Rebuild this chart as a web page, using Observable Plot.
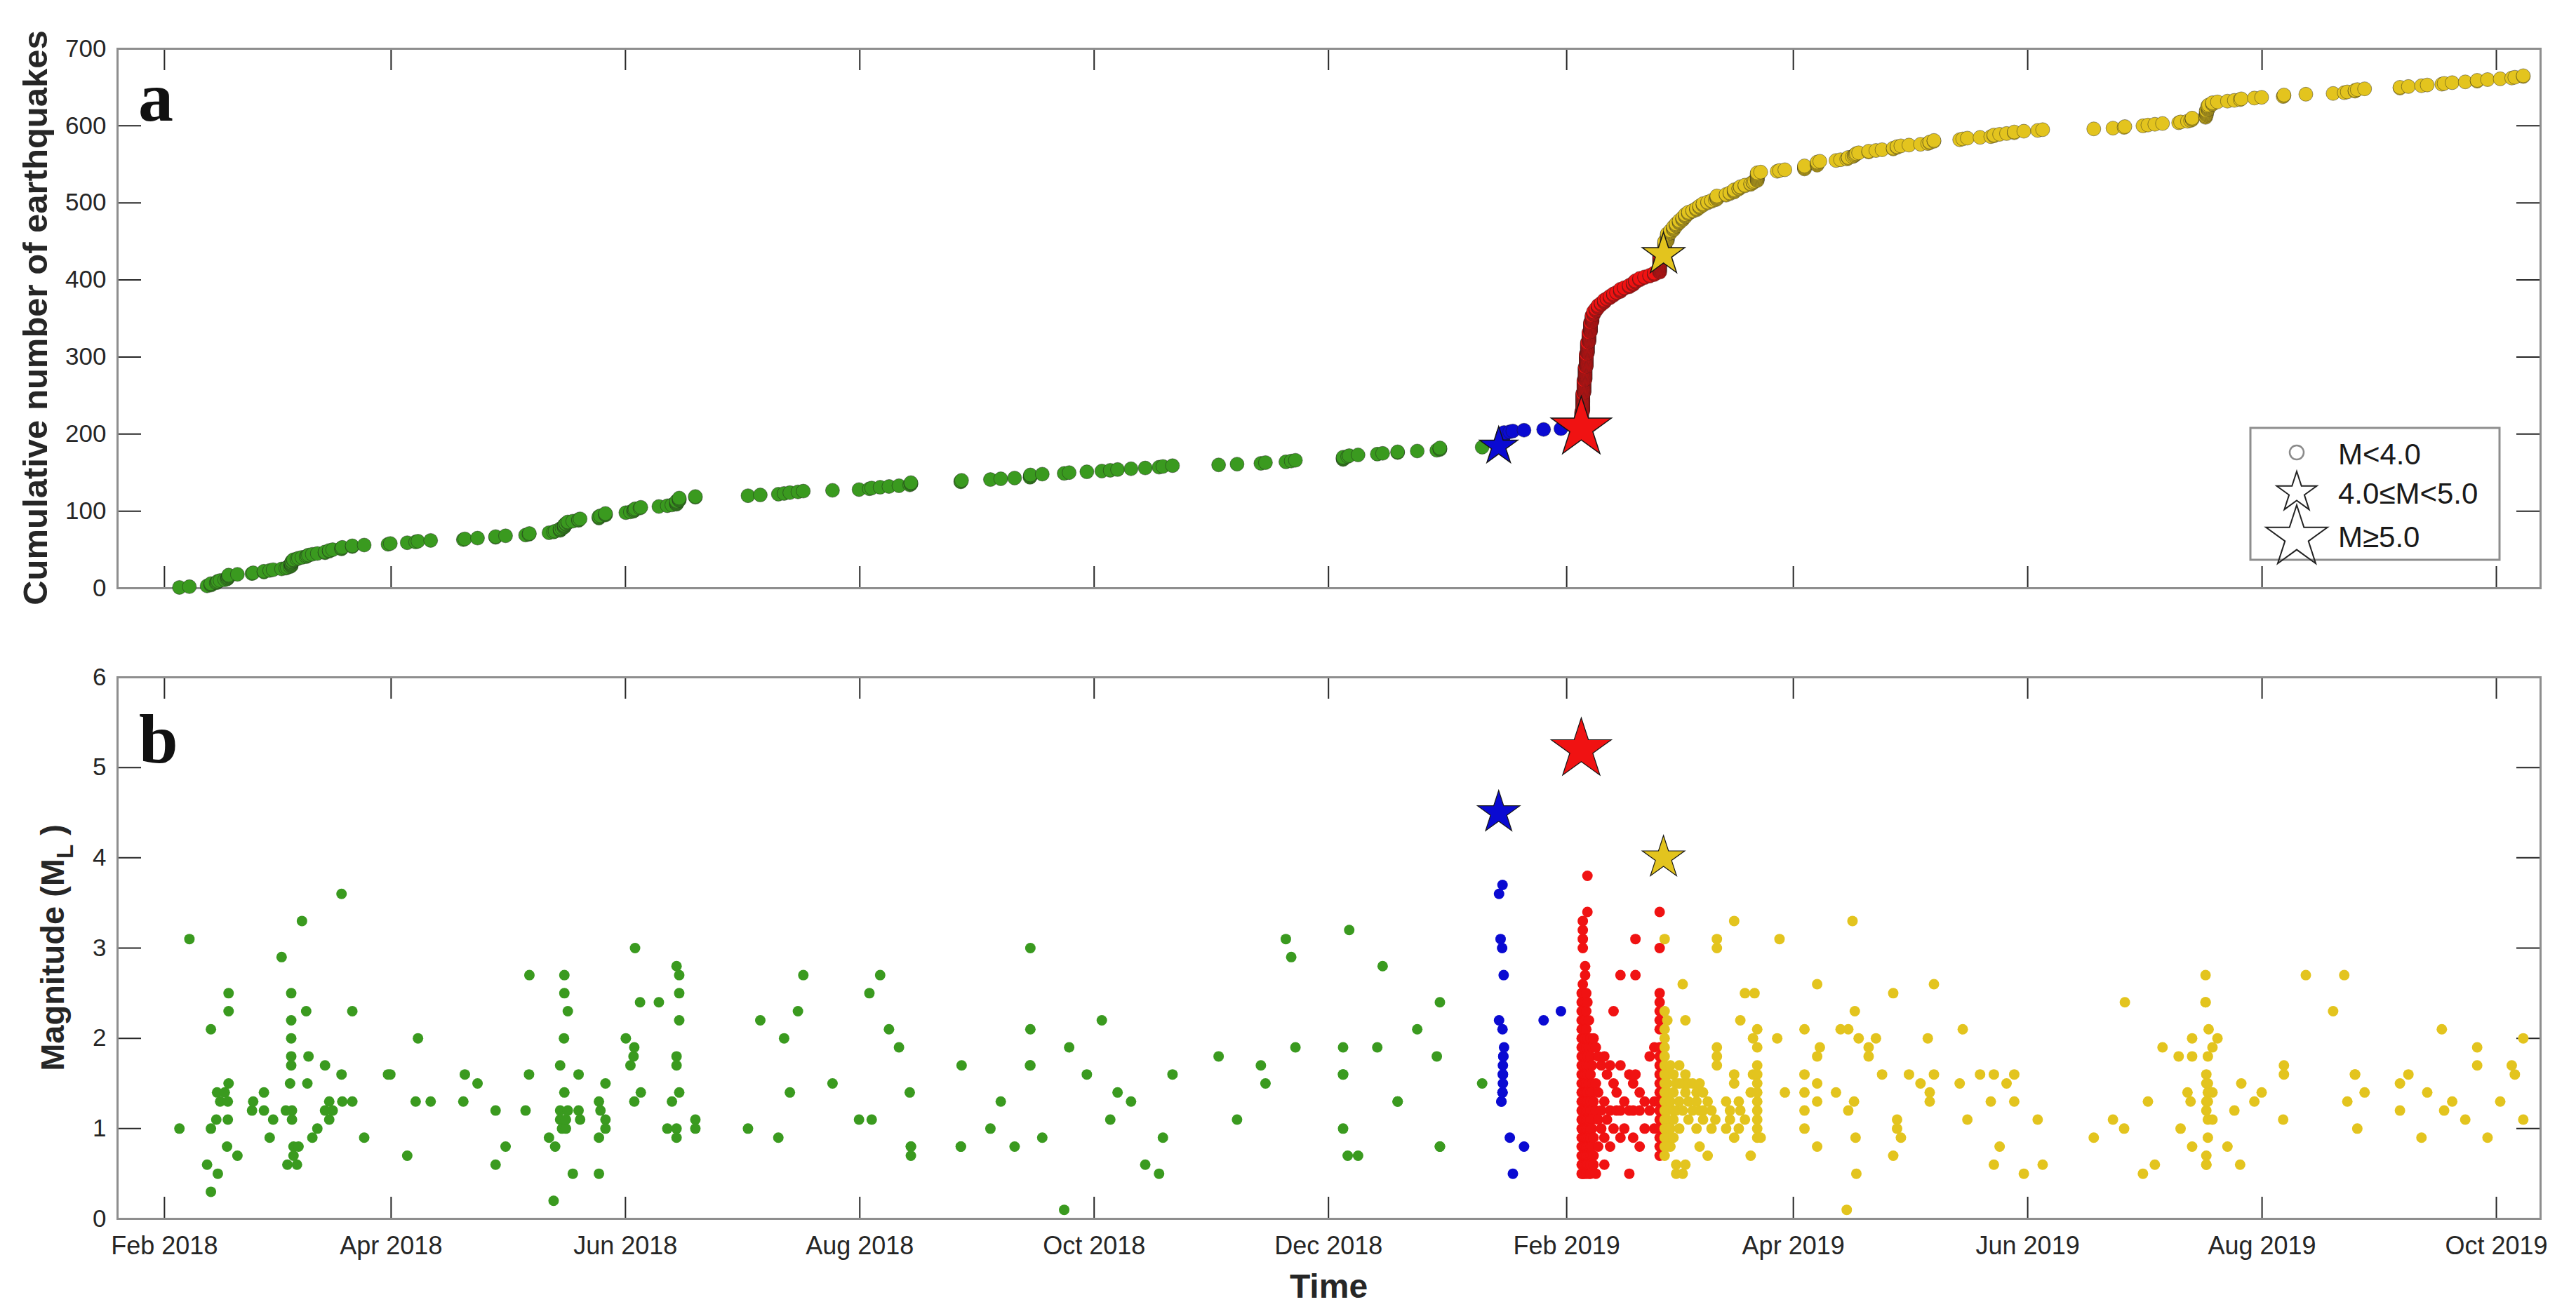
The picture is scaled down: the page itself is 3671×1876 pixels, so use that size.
<!DOCTYPE html>
<html><head><meta charset="utf-8">
<script src="https://cdn.jsdelivr.net/npm/d3@7"></script>
<script src="https://cdn.jsdelivr.net/npm/@observablehq/plot@0.6"></script>
<style>
html,body{margin:0;padding:0;background:#fff;}
#chart{position:relative;width:3671px;height:1876px;overflow:hidden;background:#fff;}
#chart svg{position:absolute;left:0;}
</style></head><body><div id="chart"></div>
<script>
// ---------- tick values / labels ----------
const xTickDates  = ["2018-02-01","2018-04-01","2018-06-01","2018-08-01","2018-10-01","2018-12-01","2019-02-01","2019-04-01","2019-06-01","2019-08-01","2019-10-01"];
const xTickLabels = ["Feb 2018","Apr 2018","Jun 2018","Aug 2018","Oct 2018","Dec 2018","Feb 2019","Apr 2019","Jun 2019","Aug 2019","Oct 2019"];
const cumTicks = [0,100,200,300,400,500,600,700];
const magTicks = [0,1,2,3,4,5,6];
const legendLabels = ["M<4.0","4.0\u2264M<5.0","M\u22655.0"];

// ---------- events: [days since 2018-01-01 UTC, magnitude ML] ----------
const greenEvents = [
[34.9,1.0],[37.5,3.1],[42.1,0.6],[43.1,2.1],[43.1,1.0],[43.1,0.3],[44.5,1.1],[44.7,1.4],[44.9,0.5],[45.5,1.3],
[46.7,1.4],[47.3,0.8],[47.5,1.3],[47.5,1.1],[47.7,2.5],[47.7,2.3],[47.7,1.5],[50.0,0.7],[53.8,1.2],[54.1,1.3],
[56.9,1.4],[56.9,1.2],[58.4,0.9],[59.3,1.1],[61.5,2.9],[62.6,1.2],[63.0,0.6],[63.7,1.5],[64.0,2.5],[64.0,2.2],
[64.0,2.0],[64.0,1.8],[64.0,1.7],[64.2,1.2],[64.2,1.1],[64.6,0.8],[64.6,0.7],[65.5,0.6],[65.9,0.8],[66.8,3.3],
[67.9,2.3],[68.2,1.5],[68.5,1.8],[69.5,0.9],[70.8,1.0],[72.8,1.7],[72.8,1.2],[73.9,1.3],[73.9,1.1],[74.8,1.2],
[77.1,3.6],[77.1,1.6],[77.3,1.3],[79.9,2.3],[79.9,1.3],[83.0,0.9],[89.2,1.6],[89.8,1.6],[94.2,0.7],[96.4,1.3],
[97.0,2.0],[100.3,1.3],[108.8,1.3],[109.2,1.6],[112.5,1.5],[117.2,1.2],[117.2,0.6],[119.8,0.8],[125.0,1.2],[125.9,1.6],
[126.0,2.7],[131.1,0.9],[132.3,0.2],[132.7,0.8],[134.0,1.7],[134.0,1.2],[134.0,1.1],[134.5,1.0],[135.0,2.0],[135.1,2.7],
[135.1,2.5],[135.1,1.4],[135.5,1.0],[135.5,1.1],[136.0,2.3],[136.0,1.2],[137.3,0.5],[138.8,1.6],[138.8,1.2],[139.2,1.1],
[144.1,1.3],[144.1,0.9],[144.1,0.5],[144.5,1.2],[145.8,1.5],[145.8,1.1],[145.8,1.0],[151.1,2.0],[152.3,1.7],[153.1,1.8],
[153.3,1.9],[153.3,1.3],[153.5,3.0],[154.8,2.4],[155.0,1.4],[159.7,2.4],[161.9,1.0],[163.1,1.3],[164.3,2.8],[164.3,1.8],
[164.3,1.7],[164.3,1.0],[164.3,0.9],[165.0,2.7],[165.0,2.5],[165.0,2.2],[165.0,1.4],[169.2,1.1],[169.2,1.0],[182.9,1.0],
[186.1,2.2],[190.8,0.9],[192.3,2.0],[193.8,1.4],[195.9,2.3],[197.3,2.7],[204.9,1.5],[211.8,1.1],[214.5,2.5],[215.1,1.1],
[217.3,2.7],[219.6,2.1],[222.2,1.9],[225.0,1.4],[225.3,0.8],[225.3,0.8],[225.3,0.7],[238.3,0.8],[238.3,0.8],[238.5,1.7],
[246.0,1.0],[248.7,1.3],[252.3,0.8],[256.3,1.7],[256.4,1.7],[256.4,3.0],[256.4,2.1],[259.5,0.9],[265.2,0.1],[266.5,1.9],
[271.1,1.6],[275.0,2.2],[277.2,1.1],[279.1,1.4],[282.6,1.3],[286.3,0.6],[289.9,0.5],[290.9,0.9],[293.4,1.6],[305.4,1.8],
[310.2,1.1],[316.4,1.7],[317.6,1.5],[322.9,3.1],[324.3,2.9],[325.4,1.9],[337.8,1.9],[337.8,1.6],[337.8,1.6],[337.8,1.0],
[339.0,0.7],[339.4,3.2],[341.7,0.7],[346.7,1.9],[348.1,2.8],[352.0,1.3],[352.0,1.3],[357.1,2.1],[362.2,1.8],[363.0,2.4],
[363.0,0.8],[363.0,0.8],[374.0,1.5]
];
const blueEvents = [
[378.4,3.6],[378.4,2.2],[378.8,3.1],[379.0,1.3],[379.0,1.3],[379.2,3.0],[379.3,3.7],[379.3,2.1],[379.3,1.4],[379.3,1.4],
[379.4,1.7],[379.4,1.6],[379.4,1.6],[379.4,1.5],[379.5,1.8],[379.5,1.8],[379.6,2.7],[379.7,1.9],[381.2,0.9],[382.0,0.5],
[384.9,0.8],[390.0,2.2],[394.5,2.3]
];
// dense sequences: [day, [magnitudes stacked at that day]]
const redColumns = [
[399.9,[2.5,2.4,2.3,2.2,2.1,2.0,1.9,1.8,1.7,1.6,1.5,1.4,1.3,1.2,1.1,1.0,0.9,0.8,0.7,0.6,0.5]],
[400.2,[3.3,3.2,3.1,3.0,2.6,2.5,2.4,2.3,2.1,1.9,1.8,1.7,1.6,1.5,1.4,1.3,1.2,1.1,1.0,0.9,0.8,0.7,0.6,0.5]],
[400.5,[2.2,2.0,1.9,1.8,1.7,1.6,1.5,1.4,1.3,1.2,1.1,1.0,0.9,0.8,0.7,0.6,0.5]],
[400.8,[2.8,2.7,2.4,2.2,2.0,1.8,1.6,1.5,1.4,1.3,1.2,1.1,1.0,0.9,0.8,0.7,0.6]],
[401.1,[2.5,2.3,2.1,1.9,1.7,1.5,1.4,1.3,1.2,1.1,1.0,0.9,0.8,0.7,0.6,0.6,0.5]],
[401.4,[3.8,3.4,2.4,2.0,1.8,1.6,1.4,1.3,1.2,1.1,1.0,0.9,0.8,0.7,0.6]],
[401.8,[2.2,1.9,1.7,1.5,1.3,1.2,1.1,1.0,0.9,0.8,0.7,0.6,0.5]],
[402.2,[2.0,1.8,1.6,1.4,1.3,1.2,1.1,1.0,0.9,0.8,0.7,0.6,0.5]],
[402.6,[1.9,1.7,1.5,1.4,1.2,1.1,1.0,0.8,0.7]],
[403.0,[2.0,1.3,0.9,0.7,0.6]],[403.6,[1.9,1.5,1.2,0.5]],[404.2,[1.8,1.4,1.1,0.8]],[405.0,[1.7,1.2,1.0]],
[405.8,[1.8,1.3,0.9,0.6]],[406.5,[1.6,1.1]],[407.3,[1.7,1.2,0.8]],[408.2,[2.3,1.5,1.0]],[409.0,[1.4,1.2]],
[410.0,[2.7,1.7,1.2,0.9]],[411.0,[1.3,1.0]],[412.3,[1.6,1.2,0.5]],[413.3,[1.5,1.2,0.9]],[413.9,[3.1,2.7,1.6]],
[415.0,[1.4,1.2,0.8]],[416.3,[1.3,1.0]],[417.6,[1.8,1.2]],[418.8,[1.9,1.3,1.0]],
[420.2,[3.4,3.0,2.5,2.4,2.3,2.2,2.1,1.9,1.8,1.7,1.6,1.5,1.4,1.3,1.3,1.2,1.2,1.1,1.0,1.0,0.9,0.8,0.7]]
];
const yellowColumns = [
[421.5,[3.1,2.3,2.1,2.0,1.9,1.8,1.7,1.6,1.5,1.4,1.3,1.2,1.1,1.0,0.9,0.8,0.7]],
[422.2,[2.2,1.6,1.5,1.4,1.3,1.2,1.1,1.0,0.9,0.8]],
[423.0,[1.7,1.3,1.0,0.8]],[423.8,[1.6,1.4,1.2,1.1,0.9]],[424.5,[1.5,1.2,0.6,0.5]],[425.3,[1.7,1.5,1.3,1.0]],
[426.2,[2.6,1.5,1.2,0.5]],[426.9,[2.2,1.6,1.4,0.6]],[427.7,[1.5,1.3,1.1]],[428.8,[1.5,1.2]],[429.8,[1.4,1.3,1.0]],
[430.6,[1.5,1.2,0.8]],[431.5,[1.4,1.2,1.1]],[432.7,[1.3,0.7]],[433.7,[1.2,1.0]],[434.7,[1.1]],
[435.1,[3.1,3.0,1.9,1.8,1.7]],[437.5,[1.3,1.0]],[438.5,[1.2,1.1]],[439.6,[3.3,1.6,1.5,0.9]],[440.8,[1.3,1.0]],
[441.2,[2.2,1.2]],[442.4,[2.5,1.1]],[443.9,[1.4,0.7]],[444.5,[2.0,1.6]],[444.9,[2.5]],
[445.6,[2.1,1.9,1.7,1.6,1.5,1.4,1.3,1.2,1.1,1.0,0.9]],[446.5,[0.9]],
[450.8,[2.0]],[451.4,[3.1]],[452.8,[1.4]],[457.9,[2.1,1.6,1.4,1.2,1.0]],[461.2,[2.6,1.8,1.5,1.3,0.8]],
[461.9,[1.9]],[466.1,[1.4]],[467.3,[2.1]],[468.9,[0.1]],[469.3,[2.1,1.2]],[470.4,[3.3]],[470.8,[1.3]],
[471.0,[2.3]],[471.2,[0.9]],[471.4,[0.5]],[472.0,[2.0]],[474.6,[1.9,1.8]],[476.5,[2.0]],[478.1,[1.6]],
[481.0,[2.5,0.7]],[482.0,[1.1,1.0]],[483.0,[0.9]],[485.1,[1.6]],[488.1,[1.5]],[490.0,[2.0]],[490.5,[1.4,1.3]],
[491.6,[2.6,1.6]],[498.3,[1.5]],[499.1,[2.1]],[500.3,[1.1]],[503.6,[1.6]],[506.4,[1.3]],[507.2,[1.6,0.6]],
[508.7,[0.8]],[510.5,[1.5]],[512.5,[1.6,1.3]],[515.0,[0.5]],[518.6,[1.1]],[519.9,[0.6]],
[533.2,[0.9]],[538.2,[1.1]],[541.1,[1.0]],[541.3,[2.4]],[546.0,[0.5]],[547.3,[1.3]],[549.1,[0.6]],
[551.1,[1.9]],[555.3,[1.8]],[555.8,[1.0]],[557.6,[1.4]],[558.4,[1.3]],[558.8,[2.0,1.8,0.8]],
[562.3,[2.7,2.4,2.4]],[562.5,[1.6,1.5,1.3,1.2,0.7,0.6,0.6]],[562.9,[1.8,1.5,1.4,1.3,1.1,0.9]],
[563.1,[2.1]],[564.1,[1.9,1.4,1.1]],[565.4,[2.0]],[568.0,[0.8]],[569.8,[1.2]],[571.3,[0.6]],[571.6,[1.5]],
[575.0,[1.3]],[576.9,[1.4]],[582.5,[1.1]],[582.7,[1.7,1.6]],[588.4,[2.7]],[595.5,[2.3]],[598.4,[2.7]],
[599.2,[1.3]],[601.2,[1.6,1.6]],[601.8,[1.0]],[603.7,[1.4]],[612.9,[1.5,1.2]],[615.1,[1.6]],[618.5,[0.9]],
[620.0,[1.4]],[623.8,[2.1]],[624.4,[1.2]],[626.5,[1.3]],[629.9,[1.1]],[633.0,[1.9,1.7]],[635.7,[0.9]],
[639.0,[1.3]],[642.0,[1.7]],[642.8,[1.6]],[645.0,[2.0,1.1]]
];
// largest events of each sequence (drawn as stars)
const mainShockPhase = ["blue","red","yellow"];
const mainShockDay   = [378.3, 399.8, 421.2];
const mainShockMag   = [4.5, 5.2, 4.0];

// ---------- styles ----------
const COLORS = {green:"#3a9a1f", blue:"#0a0ad2", red:"#f01212", yellow:"#e3c41e"};
const PHASES = ["green","blue","red","yellow"];
const FONT = "'Liberation Sans', Arial, Helvetica, sans-serif";
const TXT = "#262626";

// ---------- build catalogue ----------
const toDate = d => new Date(Date.UTC(2018,0,1) + d*864e5);
const events = [];
greenEvents.forEach(([d,m]) => events.push({phase:"green", day:d, mag:m, star:false}));
blueEvents.forEach(([d,m]) => events.push({phase:"blue", day:d, mag:m, star:false}));
redColumns.forEach(([d,ms]) => ms.forEach(m => events.push({phase:"red", day:d, mag:m, star:false})));
yellowColumns.forEach(([d,ms]) => ms.forEach(m => events.push({phase:"yellow", day:d, mag:m, star:false})));
mainShockDay.forEach((d,i) => events.push({phase:mainShockPhase[i], day:d, mag:mainShockMag[i], star:true}));
events.sort((a,b) => (a.day - b.day) || (b.star - a.star));
events.forEach((e,i) => { e.count = i + 1; e.date = toDate(e.day); });
const stars = events.filter(e => e.star);

const xTicks = xTickDates.map((d,i) => ({date: new Date(d + "T00:00:00Z"), label: xTickLabels[i]}));
const xDomain = [new Date("2018-01-19T19:00:00Z"), new Date("2019-10-12T12:00:00Z")];

const W = 3671, ML = 167, MR = 51;
const innerW = W - ML - MR;
const TICK = 31;

function frameMarks(innerH, yTicks) {
  return [
    Plot.tickX(xTicks, {x:"date", insetTop: innerH - TICK, stroke:TXT, strokeWidth:2}),
    Plot.tickX(xTicks, {x:"date", insetBottom: innerH - TICK, stroke:TXT, strokeWidth:2}),
    Plot.tickY(yTicks, {y:d=>d, insetRight: innerW - 34, stroke:TXT, strokeWidth:2}),
    Plot.tickY(yTicks, {y:d=>d, insetLeft: innerW - 34, stroke:TXT, strokeWidth:2}),
    Plot.text(yTicks, {y:d=>d, text:d=>String(d), frameAnchor:"left", textAnchor:"end", dx:-16,
      fontSize:35, fill:TXT}),
    Plot.frame({stroke:"#8e8e8e", strokeWidth:3})
  ];
}
const starR = m => m >= 5 ? 27 : 19;

// ---------- panel a ----------
const hA = 900, topA = 69, botA = 838;
const plotA = Plot.plot({
  width: W, height: hA, marginTop: topA, marginBottom: hA - botA, marginLeft: ML, marginRight: MR,
  style: {fontFamily: FONT, fontSize: "35px", color: TXT, background: "transparent", overflow: "visible"},
  x: {type:"utc", domain:xDomain, axis:null},
  y: {domain:[0,700], axis:null},
  marks: [
    ...frameMarks(botA - topA, cumTicks),
    ...PHASES.map(p => Plot.dot(events.filter(e => e.phase === p && !e.star),
      {x:"date", y:"count", r:10, fill:COLORS[p], stroke:"#1c1c1c", strokeWidth:0.8, strokeOpacity:0.55})),
    ...stars.map(s => Plot.dot([s], {x:"date", y:"count", symbol:"star", r: s.phase === "blue" ? 17 : starR(s.mag),
      fill:COLORS[s.phase], stroke:"#151515", strokeWidth:1.5}))
  ]
});
plotA.style.top = "0px";

// ---------- panel b ----------
const offB = 900, hB = 976, topB = 965 - offB, botB = 1737 - offB;
const plotB = Plot.plot({
  width: W, height: hB, marginTop: topB, marginBottom: hB - botB, marginLeft: ML, marginRight: MR,
  style: {fontFamily: FONT, fontSize: "35px", color: TXT, background: "transparent", overflow: "visible"},
  x: {type:"utc", domain:xDomain, axis:null},
  y: {domain:[0,6], axis:null},
  marks: [
    ...frameMarks(botB - topB, magTicks),
    Plot.text(xTicks, {x:"date", text:"label", frameAnchor:"bottom", lineAnchor:"top", dy:25, fontSize:36, fill:TXT}),
    ...PHASES.map(p => Plot.dot(events.filter(e => e.phase === p && !e.star),
      {x:"date", y:"mag", r:7.5, fill:COLORS[p]})),
    ...stars.map(s => Plot.dot([s], {x:"date", y:"mag", symbol:"star", r:starR(s.mag),
      fill:COLORS[s.phase], stroke:"#151515", strokeWidth:1.2}))
  ]
});
plotB.style.top = offB + "px";

const chart = document.getElementById("chart");
chart.appendChild(plotA);
chart.appendChild(plotB);

// ---------- titles, panel letters, legend ----------
const ov = d3.create("svg").attr("width", W).attr("height", 1876)
  .style("top","0px").style("pointer-events","none").style("font-family", FONT);
ov.append("text").attr("transform","translate(67,453) rotate(-90)").attr("text-anchor","middle")
  .attr("font-size",49).attr("font-weight","bold").attr("fill",TXT).text("Cumulative number of earthquakes");
const mag = ov.append("text").attr("transform","translate(91,1351) rotate(-90)").attr("text-anchor","middle")
  .attr("font-size",47).attr("font-weight","bold").attr("fill",TXT);
mag.append("tspan").text("Magnitude (M");
mag.append("tspan").attr("font-size",33).attr("dy",13).text("L");
mag.append("tspan").attr("dy",-13).text(" )");
ov.append("text").attr("x",(ML + W - MR)/2).attr("y",1850).attr("text-anchor","middle")
  .attr("font-size",48).attr("font-weight","bold").attr("fill",TXT).text("Time");
ov.append("text").attr("x",197).attr("y",172).attr("font-family","'Liberation Serif','Times New Roman',serif")
  .attr("font-size",100).attr("font-weight","bold").attr("fill","#111").text("a");
ov.append("text").attr("x",198).attr("y",1087).attr("font-family","'Liberation Serif','Times New Roman',serif")
  .attr("font-size",100).attr("font-weight","bold").attr("fill","#111").text("b");

// legend
const lg = ov.append("g");
lg.append("rect").attr("x",3207).attr("y",610).attr("width",355).attr("height",188)
  .attr("fill","#fff").attr("stroke","#8e8e8e").attr("stroke-width",3);
const starPath = R => d3.symbol().type(d3.symbolStar).size(R*R/0.8908130915292852)();
lg.append("circle").attr("cx",3273).attr("cy",645).attr("r",10).attr("fill","none").attr("stroke","#8a8a8a").attr("stroke-width",2.5);
lg.append("path").attr("d",starPath(30)).attr("transform","translate(3273,702)").attr("fill","none").attr("stroke","#222").attr("stroke-width",2);
lg.append("path").attr("d",starPath(46)).attr("transform","translate(3273,766)").attr("fill","none").attr("stroke","#222").attr("stroke-width",2);
[662,718,780].forEach((y,i) => lg.append("text").attr("x",3332).attr("y",y).attr("font-size",42)
  .attr("fill","#1a1a1a").text(legendLabels[i]));
chart.appendChild(ov.node());
</script></body></html>
